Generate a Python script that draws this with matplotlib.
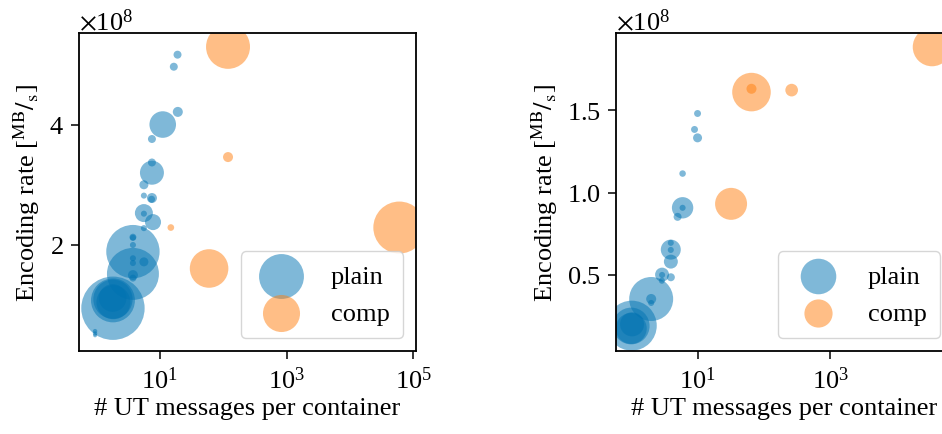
import matplotlib
matplotlib.use('Agg')
import matplotlib.pyplot as plt

plt.rcParams['font.family'] = ['Liberation Serif', 'DejaVu Serif']
plt.rcParams['mathtext.fontset'] = 'stix'
plt.rcParams['axes.formatter.use_mathtext'] = True
plt.rcParams['font.size'] = 19

# left panel: (messages per container, encoding rate x1e8, bubble size)
left_plain_x = [19.0, 16.6, 19.2, 11.1, 7.5, 7.5, 7.5, 5.6, 5.6, 7.5, 7.4, 5.6, 5.6, 7.8, 5.6,
                3.76, 3.76, 3.76, 3.76, 3.76, 5.6, 3.76, 3.76, 3.76, 3.76,
                1.82, 1.82, 1.85, 1.80, 1.82, 0.95, 0.95, 0.95]
left_plain_y = [5.16, 4.96, 4.21, 4.00, 3.76, 3.37, 3.20, 3.00, 2.82, 2.78, 2.76, 2.53, 2.52, 2.38, 2.28,
                2.13, 2.12, 2.00, 1.89, 1.78, 1.72, 1.70, 1.52, 1.50, 1.45,
                1.08, 1.10, 1.05, 1.12, 0.95, 0.57, 0.53, 0.50]
left_plain_s = [33, 33, 52, 366, 33, 33, 298, 42, 19, 52, 25, 168, 19, 133, 19,
                25, 19, 19, 1475, 19, 42, 19, 1400, 52, 25,
                1000, 800, 600, 400, 2080, 10, 10, 8]

left_comp_x = [119, 119, 14.9, 59.8, 60000]
left_comp_y = [5.29, 3.46, 2.29, 1.61, 2.29]
left_comp_s = [1002, 52, 23, 771, 1400]

# right panel
right_plain_x = [10, 9.0, 10, 5.95, 5.95, 5.95, 5.0, 3.95, 3.95, 3.95, 3.96, 2.92, 2.92, 3.96, 2.9,
                 2.0, 2.0, 2.0, 1.02, 1.0, 1.0, 1.03]
right_plain_y = [1.481, 1.384, 1.333, 1.116, 0.908, 0.908, 0.853, 0.695, 0.654, 0.652, 0.581, 0.502, 0.50,
                 0.486, 0.465, 0.354, 0.354, 0.33, 0.192, 0.19, 0.175, 0.20]
right_plain_s = [25, 25, 42, 22, 237, 19, 33, 19, 207, 19, 101, 101, 19, 33, 19,
                 1002, 52, 19, 1294, 700, 500, 300]

right_comp_x = [65, 65, 262, 32, 34200]
right_comp_y = [1.611, 1.631, 1.623, 0.932, 1.885]
right_comp_s = [771, 52, 83, 530, 771]

panels = [
    (left_plain_x, left_plain_y, left_plain_s, left_comp_x, left_comp_y, left_comp_s,
     [79, 337], (0.53, 1.1e5), (0.24e8, 5.52e8), [2e8, 4e8], [1e1, 1e3, 1e5]),
    (right_plain_x, right_plain_y, right_plain_s, right_comp_x, right_comp_y, right_comp_s,
     [616, 337], (0.59, 7.08e4), (0.038e8, 1.97e8), [0.5e8, 1.0e8, 1.5e8], [1e1, 1e3]),
]

W, H = 942, 435
fig = plt.figure(figsize=(W / 100, H / 100), dpi=100)

for px, py, ps, cx, cy, cs, (x0, w), xl, yl, yt, xt in panels:
    ax = fig.add_axes([x0 / W, (H - 352) / H, w / W, 318 / H])
    ax.scatter(px, [v * 1e8 for v in py], s=ps, color='#0173b2', alpha=0.5,
               linewidths=0, label='plain')
    ax.scatter(cx, [v * 1e8 for v in cy], s=cs, color='#ff7f0e', alpha=0.5,
               linewidths=0, label='comp')
    ax.set_xscale('log')
    ax.set_xlim(*xl)
    ax.set_ylim(*yl)
    ax.set_xticks(xt)
    ax.minorticks_off()
    ax.set_yticks(yt)
    ax.tick_params(length=6, width=1.1, pad=5)
    for sp in ax.spines.values():
        sp.set_linewidth(1.3)
    ax.set_xlabel('# UT messages per container', labelpad=3)
    ax.set_ylabel(r'Encoding rate [$^{\mathrm{MB}}/_{\mathrm{s}}$]', labelpad=5)
    ax.legend(loc='lower right', handletextpad=0.9, borderpad=0.5)

fig.savefig('out.png', dpi=100)
